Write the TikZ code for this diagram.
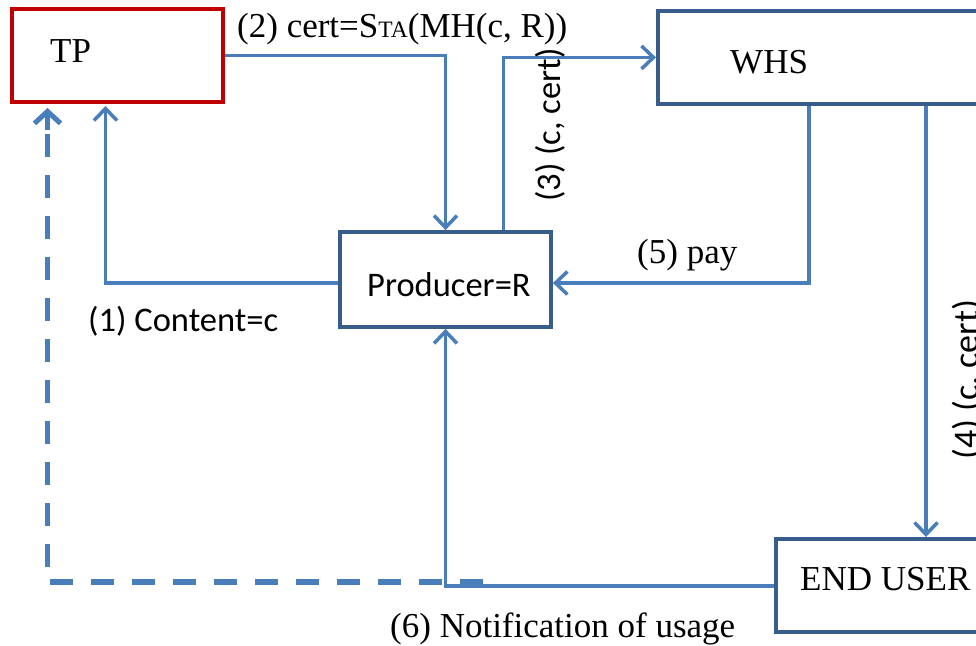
\documentclass[tikz,border=0pt]{standalone}
\usepackage{fontspec}
\setmainfont{Liberation Serif}
\newfontfamily\calib{Carlito}
\usetikzlibrary{arrows.meta,calc}
\definecolor{lineblue}{HTML}{4A7EBB}
\definecolor{boxblue}{HTML}{385D8A}
\definecolor{tpred}{HTML}{C00000}
\tikzset{
  boxshape/.style={rectangle, draw=boxblue, line width=3.8pt, inner sep=0pt, fill=white},
  redbox/.style={rectangle, draw=tpred, line width=4pt, inner sep=0pt, fill=white},
  conn/.style={draw=lineblue, line width=3.5pt, -{Straight Barb[length=12pt,width=23pt,line width=3.5pt]}},
  dashline/.style={draw=lineblue, line width=5.5pt, dash pattern=on 23pt off 18pt},
  dashtip/.style={draw=lineblue, line width=5.5pt, -{Straight Barb[length=12pt,width=26pt,line width=5pt]}},
  serif/.style={inner sep=0pt, font=\fontsize{35}{40}\selectfont},
  sans/.style={inner sep=0pt, font=\calib\fontsize{34.5}{40}\selectfont},
}
\begin{document}
\begin{tikzpicture}[x=1pt, y=-1pt]
\useasboundingbox (0,0) rectangle (976,645);
\clip (0,0) rectangle (976,645);
% boxes
\node[redbox, minimum width=211pt, minimum height=93pt] (tp) at (117.5,55.5) {};
\node[boxshape, minimum width=400pt, minimum height=93pt, anchor=north west] (whs) at (656,9) {};
\node[boxshape, minimum width=211pt, minimum height=95pt] (prod) at (445.5,279.5) {};
\node[boxshape, minimum width=400pt, minimum height=93pt, anchor=north west] (user) at (774,537) {};
% box texts
\node[serif, anchor=base west] (tpT) at (50,62) {TP};
\node[serif, anchor=base west] (whsT) at (730,73) {WHS};
\node[sans, anchor=base west] (prodT) at (367,296) {Producer=R};
\node[serif, anchor=base west] (userT) at (800,590) {END USER};
% dashed connector (back to TP)
\coordinate (dstart) at (483,582);
\draw[dashline] (dstart) -| ([xshift=-70pt,yshift=-26pt]tp.south);
\draw[dashtip] ([xshift=-70pt,yshift=-26pt]tp.south) -- ([xshift=-70pt,yshift=-4pt]tp.south);
% connectors
\draw[conn] ([yshift=-3.5pt]prod.west) -| ([xshift=-12pt,yshift=-2pt]tp.south);
\draw[conn] (tp.east) -| (prod.north);
\draw[conn] ([xshift=58pt]prod.north) |- (whs.west);
\draw[conn] ([xshift=153pt]whs.south west) |- ([yshift=-3.5pt]prod.east);
\draw[conn] ([xshift=270pt]whs.south west) -- ([xshift=152pt]user.north west);
\draw[conn] ([yshift=-0.5pt]user.west) -| (prod.south);
% labels
\node[serif, anchor=base west] (l2) at (237,37) {(2) cert=S{\fontsize{23.5}{26}\selectfont TA}(MH(c, R))};
\node[sans, anchor=base west, rotate=90] (l3) at (560,202) {(3) (c, cert)};
\node[sans, anchor=base west, rotate=90, font=\calib\fontsize{36}{40}\selectfont] (l4) at (978,460) {(4) (c, cert)};
\node[serif, anchor=base west] (l5) at (637,263) {(5) pay};
\node[sans, anchor=base west] (l1) at (88,331) {(1) Content=c};
\node[serif, anchor=base west] (l6) at (390,637) {(6) Notification of usage};
\end{tikzpicture}
\end{document}
